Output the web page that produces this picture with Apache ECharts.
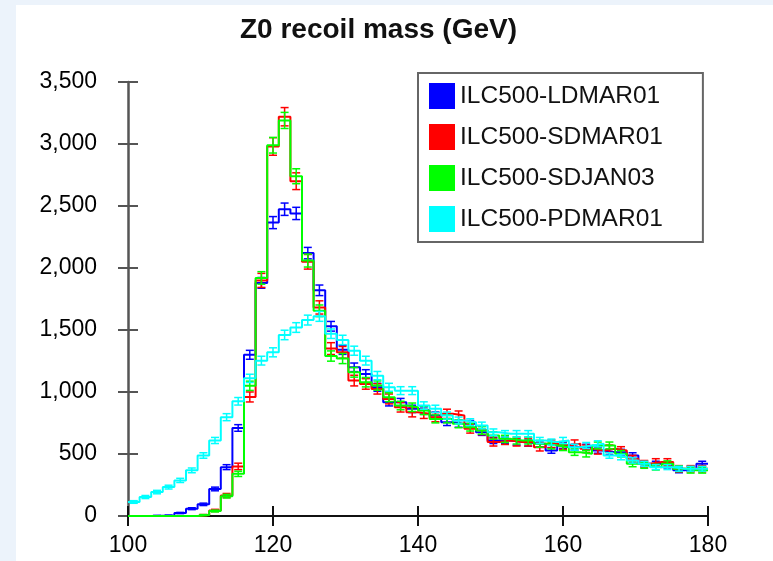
<!DOCTYPE html>
<html>
<head>
<meta charset="utf-8">
<script src="https://cdn.jsdelivr.net/npm/echarts@6/dist/echarts.min.js"></script>
<style>
  html, body { margin: 0; padding: 0; background: #ecf3fb; }
  #chart { position: absolute; left: 16px; top: 5px; width: 757px; height: 556px; background: #fff; }
</style>
</head>
<body>
<div id="chart"></div>
<script>
// histogram bins: 50 bins of 1.6 GeV from 100 to 180
const xMin = 100;
const binWidth = 1.6;
const seriesNames = ['ILC500-LDMAR01', 'ILC500-SDMAR01', 'ILC500-SDJAN03', 'ILC500-PDMAR01'];

const ldmar01 = [0, 0, 3, 5, 24, 59, 94, 218, 394, 710, 1300, 1880, 2366, 2474, 2440, 2120, 1820, 1530, 1340,
  1199, 1146, 1038, 918, 918, 864, 851, 810, 757, 743, 743, 676, 609, 609, 596, 588, 582, 529, 569, 555, 555,
  529, 515, 515, 488, 421, 421, 408, 368, 381, 421];
const sdmar01 = [0, 0, 0, 0, 0, 0, 8, 45, 165, 400, 960, 1900, 2980, 3220, 2700, 2050, 1682, 1350, 1320,
  1092, 1065, 1025, 944, 877, 837, 824, 797, 824, 810, 703, 690, 596, 609, 596, 596, 555, 582, 569, 582, 542,
  529, 542, 529, 461, 421, 435, 435, 381, 381, 381];
const sdjan03 = [0, 0, 0, 0, 0, 0, 8, 40, 160, 340, 1050, 1920, 2990, 3190, 2740, 2060, 1655, 1290, 1270,
  1159, 1079, 1052, 958, 891, 877, 851, 783, 783, 743, 716, 690, 649, 622, 609, 609, 582, 569, 555, 515, 502,
  569, 569, 502, 421, 408, 394, 421, 381, 368, 368];
const pdmar01 = [113, 153, 193, 233, 287, 368, 488, 609, 797, 925, 1110, 1253, 1320, 1460, 1520, 1580, 1610, 1470, 1420,
  1333, 1253, 1132, 1038, 1011, 1011, 891, 864, 810, 770, 757, 730, 676, 663, 663, 663, 609, 596, 609, 555, 569,
  582, 488, 475, 448, 421, 394, 394, 381, 381, 381];

const allValues = [ldmar01, sdmar01, sdjan03, pdmar01];
const colors = ['#0000ff', '#ff0000', '#00ff00', '#00ffff'];
const errScale = [1.0, 1.3, 1.15, 1.0];

const font = '"Liberation Sans", Arial, Helvetica, sans-serif';

function stepPoints(vals) {
  const pts = vals.map((v, i) => [xMin + i * binWidth, v]);
  pts.push([xMin + vals.length * binWidth, vals[vals.length - 1]]);
  return pts;
}

function errPoints(vals, k) {
  return vals.map((v, i) => [xMin + (i + 0.5) * binWidth, v, Math.sqrt(v) * k]);
}

function errRenderer(color) {
  return (params, api) => {
    const e = api.value(2);
    if (!e) return;
    const x = api.value(0), y = api.value(1);
    const top = api.coord([x, y + e]);
    const bot = api.coord([x, y - e]);
    const c = top[0], w = 4;
    const st = { stroke: color, lineWidth: 1.5 };
    return {
      type: 'group',
      children: [
        { type: 'line', shape: { x1: c, y1: top[1], x2: c, y2: bot[1] }, style: st },
        { type: 'line', shape: { x1: c - w, y1: top[1], x2: c + w, y2: top[1] }, style: st },
        { type: 'line', shape: { x1: c - w, y1: bot[1], x2: c + w, y2: bot[1] }, style: st }
      ]
    };
  };
}

const series = [];
allValues.forEach((vals, i) => {
  series.push({
    name: seriesNames[i],
    type: 'line',
    step: 'end',
    showSymbol: false,
    silent: true,
    color: colors[i],
    lineStyle: { color: colors[i], width: 2 },
    data: stepPoints(vals),
    z: 2 + i
  });
  series.push({
    name: seriesNames[i] + ' err',
    type: 'custom',
    silent: true,
    renderItem: errRenderer(colors[i]),
    encode: { x: 0, y: 1 },
    data: errPoints(vals, errScale[i]),
    z: 2 + i
  });
});

const gridBox = { left: 112, right: 65, top: 77, bottom: 45 };

const chart = echarts.init(document.getElementById('chart'));
chart.setOption({
  animation: false,
  backgroundColor: '#fff',
  title: {
    text: 'Z0 recoil mass (GeV)',
    left: 219,
    top: 6,
    textStyle: { fontFamily: font, fontSize: 28, fontWeight: 'bold', color: '#111' }
  },
  legend: {
    data: seriesNames,
    orient: 'vertical',
    left: 402,
    top: 68,
    padding: [10, 40, 10, 11],
    itemGap: 15,
    itemWidth: 26,
    itemHeight: 26,
    icon: 'rect',
    borderColor: '#666',
    borderWidth: 2,
    textStyle: { fontFamily: font, fontSize: 24.5, color: '#111' }
  },
  grid: [
    Object.assign({ containLabel: false }, gridBox),
    Object.assign({ containLabel: false }, gridBox)
  ],
  xAxis: [{
    type: 'value',
    min: 100, max: 180, interval: 20,
    splitLine: { show: false },
    axisLine: { lineStyle: { color: '#111', width: 2 } },
    axisTick: { length: 10, lineStyle: { color: '#111', width: 2 } },
    axisLabel: { margin: 18, fontFamily: font, fontSize: 23, color: '#000' }
  }, {
    gridIndex: 1,
    type: 'value',
    min: 100, max: 180, interval: 20,
    splitLine: { show: false },
    axisLine: { show: false },
    axisTick: { inside: true, length: 10, lineStyle: { color: '#111', width: 2 } },
    axisLabel: { show: false }
  }],
  yAxis: [{
    type: 'value',
    min: 0, max: 3500, interval: 500,
    splitLine: { show: false },
    axisLine: { show: true, lineStyle: { color: '#555', width: 2.5 } },
    axisTick: { show: true, length: 10, lineStyle: { color: '#555', width: 2 } },
    axisLabel: { margin: 31, fontFamily: font, fontSize: 23, color: '#000' }
  }, {
    gridIndex: 1,
    type: 'value',
    min: 0, max: 3500, interval: 500,
    splitLine: { show: false },
    axisLine: { show: false },
    axisTick: { show: true, inside: true, length: 10, lineStyle: { color: '#555', width: 2 } },
    axisLabel: { show: false }
  }],
  series: series
});
</script>
</body>
</html>
